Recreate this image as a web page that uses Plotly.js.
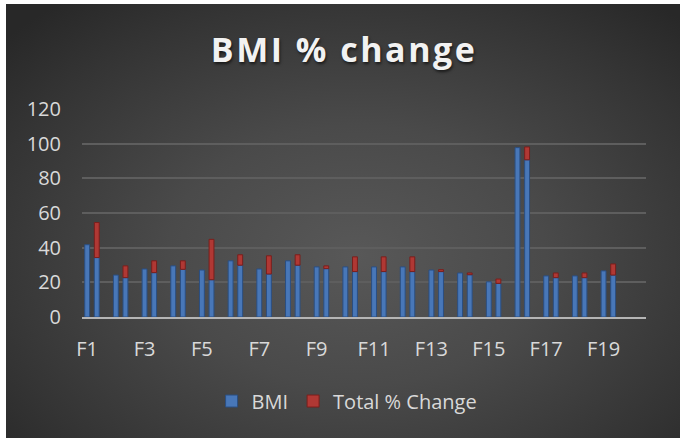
<!DOCTYPE html>
<html>
<head>
<meta charset="utf-8">
<script src="https://cdn.plot.ly/plotly-3.0.1.min.js"></script>
<style>
  html, body { margin: 0; padding: 0; background: #ffffff; }
  #bg { position: absolute; left: 6px; top: 4px; width: 674px; height: 434px;
        background: radial-gradient(ellipse 70% 75% at 52% 58%, #585858 0%, #4a4a4a 40%, #343434 80%, #282828 100%); }
  #chart { position: absolute; left: 0; top: 0; width: 680px; height: 438px; }
  #chart .gtitle { letter-spacing: 2.5px; }
</style>
</head>
<body>
<div id="bg"></div>
<div id="chart"></div>
<script>
// Categories
const categories = ["F1","F2","F3","F4","F5","F6","F7","F8","F9","F10",
                    "F11","F12","F13","F14","F15","F16","F17","F18","F19","F20"];
const tickLabels = ["F1","F3","F5","F7","F9","F11","F13","F15","F17","F19"];
// BMI (first bar of each pair)
const bmiStart = [41.7,24.2,27.7,29.5,27.1,32.4,27.7,32.4,28.9,28.9,
                  28.9,28.9,27.1,25.4,20.3,97.7,23.7,23.7,26.6,null];
// BMI (second, stacked bar of each pair)
const bmiAfter = [34.3,22.7,25.6,27.5,21.5,29.9,24.8,29.9,27.9,26.2,
                  26.2,26.2,26.2,24.4,19.4,90.7,22.7,22.7,24.2,null];
// Total % Change (stacked on top of second bar)
const totalChange = [20.2,6.8,6.8,4.9,23.3,6.0,10.5,6.0,1.6,8.5,
                     8.5,8.5,1.1,1.0,2.5,7.4,2.7,2.7,6.4,null];

const blue = '#4877b8', blueEdge = '#2b4f82';
const red = '#b03834', redEdge = '#7a1f1c';
const barW = 0.17;

const traces = [
  {
    type: 'bar', name: 'BMI', legendgroup: 'bmi',
    x: categories, y: bmiStart,
    width: barW, offset: -barW/2,
    marker: {color: blue, line: {color: blueEdge, width: 1}},
    hoverinfo: 'x+y'
  },
  {
    type: 'bar', name: 'BMI', legendgroup: 'bmi', showlegend: false,
    x: categories, y: bmiAfter,
    width: barW, offset: 0.335 - barW/2,
    marker: {color: blue, line: {color: blueEdge, width: 1}},
    hoverinfo: 'x+y'
  },
  {
    type: 'bar', name: 'Total % Change',
    x: categories, y: totalChange, base: bmiAfter,
    width: barW, offset: 0.335 - barW/2,
    marker: {color: red, line: {color: redEdge, width: 1}},
    hoverinfo: 'x+y'
  }
];

const layout = {
  width: 680, height: 438,
  margin: {l: 82, r: 34, t: 109, b: 121},
  paper_bgcolor: 'rgba(0,0,0,0)',
  plot_bgcolor: 'rgba(0,0,0,0)',
  barmode: 'overlay',
  showlegend: true,
  title: {
    text: 'BMI % change',
    x: 0.506, xref: 'container', xanchor: 'center',
    y: 0.885, yref: 'container', yanchor: 'middle',
    font: {family: 'Open Sans, sans-serif', size: 34, weight: 700, color: '#f2f2f2',
           shadow: '1px 2px 3px rgba(0,0,0,0.6)'}
  },
  xaxis: {
    type: 'category',
    categoryorder: 'array', categoryarray: categories,
    range: [-0.18, 19.48],
    tickmode: 'array', tickvals: tickLabels, ticktext: tickLabels,
    ticks: '', showgrid: false,
    showline: true, linecolor: '#b5b5b5', linewidth: 2,
    tickfont: {family: 'Open Sans, sans-serif', size: 20, color: '#d9d9d9'},
    ticklabelstandoff: 13,
    fixedrange: true
  },
  yaxis: {
    range: [0, 120], tickvals: [0,20,40,60,80,100,120],
    showgrid: true, gridcolor: '#5e5e5e', gridwidth: 2,
    zeroline: false, showline: false, ticks: '',
    tickfont: {family: 'Open Sans, sans-serif', size: 20, color: '#d9d9d9'},
    ticklabelstandoff: 20,
    fixedrange: true
  },
  legend: {
    orientation: 'h',
    x: 0.47, xanchor: 'center',
    y: -0.404, yanchor: 'middle',
    font: {family: 'Open Sans, sans-serif', size: 20, color: '#d9d9d9'},
    bgcolor: 'rgba(0,0,0,0)',
    itemwidth: 30
  }
};

Plotly.newPlot('chart', traces, layout, {displayModeBar: false, staticPlot: true});
</script>
</body>
</html>
